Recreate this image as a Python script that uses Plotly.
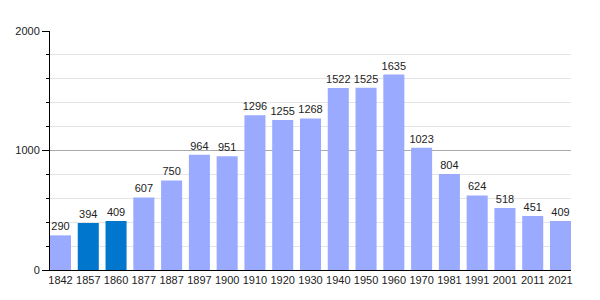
import plotly.graph_objects as go

years = ["1842", "1857", "1860", "1877", "1887", "1897", "1900", "1910", "1920", "1930",
         "1940", "1950", "1960", "1970", "1981", "1991", "2001", "2011", "2021"]
population = [290, 394, 409, 607, 750, 964, 951, 1296, 1255, 1268,
              1522, 1525, 1635, 1023, 804, 624, 518, 451, 409]
highlight = ["1857", "1860"]

light = "#99AAFF"
dark = "#0077CC"
colors = [dark if y in highlight else light for y in years]
idx = list(range(len(years)))

fig = go.Figure(go.Bar(
    x=idx, y=population, marker=dict(color=colors, line=dict(width=0)),
    width=0.757,
    text=[str(v) for v in population], textposition="outside",
    textfont=dict(size=11, color="#222", family="Liberation Sans, Arial"),
    cliponaxis=False,
))

fig.update_layout(
    width=600, height=300,
    margin=dict(l=50, r=29, t=31, b=30),
    paper_bgcolor="white", plot_bgcolor="white",
    showlegend=False,
    font=dict(family="Liberation Sans, Arial", size=11, color="#222"),
    uniformtext=dict(minsize=11, mode="show"),
)
fig.update_xaxes(
    range=[-0.378, 18.378], tickmode="array", tickvals=idx, ticktext=years,
    showline=True, linecolor="black", linewidth=1, showgrid=False,
    ticks="", tickfont=dict(size=11), zeroline=False, fixedrange=True,
)
fig.update_yaxes(
    range=[0, 2000], dtick=1000, tick0=0,
    showline=True, linecolor="black", linewidth=1,
    gridcolor="#AAAAAA", gridwidth=1,
    ticks="outside", ticklen=7, tickcolor="black",
    minor=dict(dtick=200, tick0=0, showgrid=True, gridcolor="#E4E4E4",
               ticks="outside", ticklen=3, tickcolor="black"),
    zeroline=False, tickfont=dict(size=11),
)

fig.write_html("out.html")
